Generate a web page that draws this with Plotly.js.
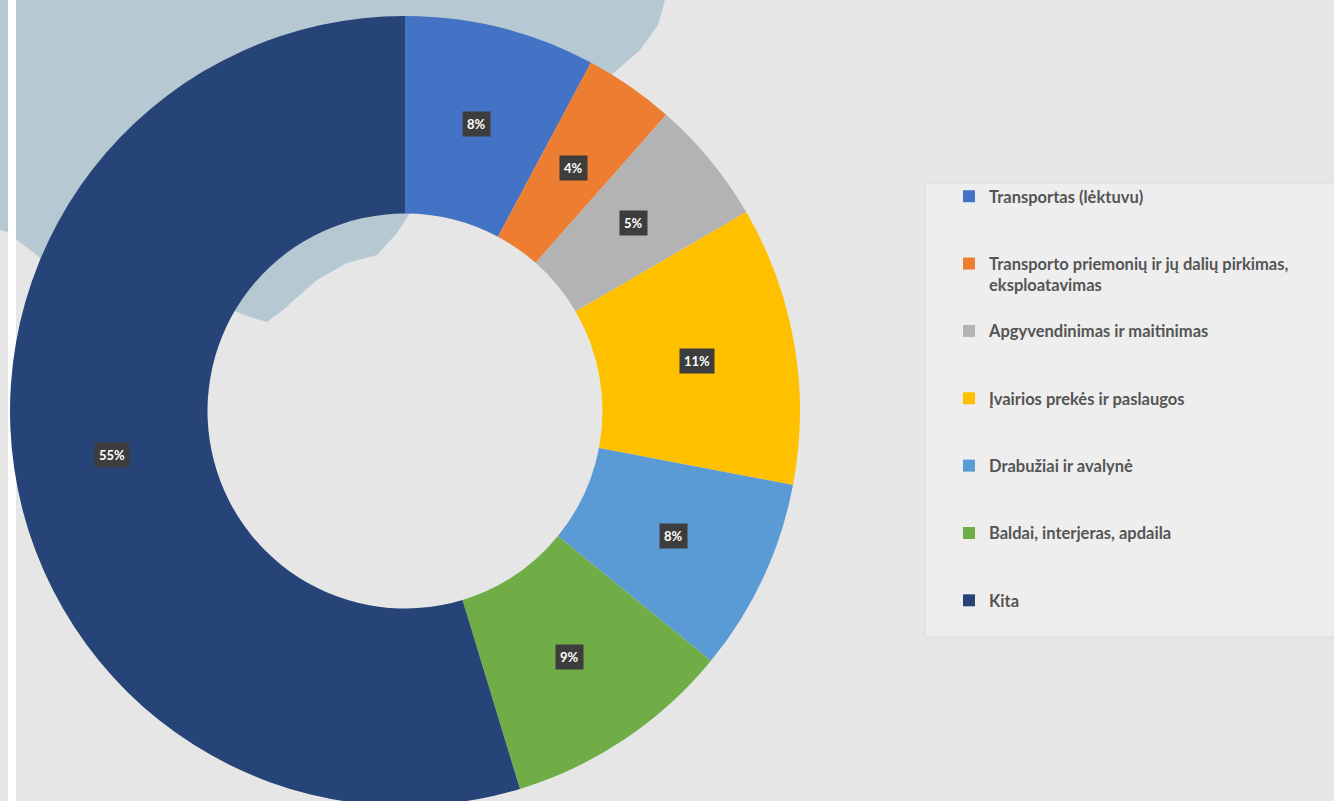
<!DOCTYPE html>
<html>
<head>
<meta charset="utf-8">
<script src="https://cdn.plot.ly/plotly-3.0.1.min.js"></script>
<style>
html,body{margin:0;padding:0;overflow:hidden;background:#e6e6e6;}
#chart{width:1334px;height:811px;}
</style>
</head>
<body>
<div id="chart"></div>
<script>
// Data
const categories = [
  "Transportas (lėktuvu)",
  "Transporto priemonių ir jų dalių pirkimas,<br>eksploatavimas",
  "Apgyvendinimas ir maitinimas",
  "Įvairios prekės ir paslaugos",
  "Drabužiai ir avalynė",
  "Baldai, interjeras, apdaila",
  "Kita"
];
const shares = [7.8, 3.7, 5.1, 11.4, 7.9, 9.4, 54.7];
const sliceColors = ["#4472C4", "#ED7D31", "#B3B3B3", "#FFC000", "#5B9BD5", "#70AD47", "#264478"];

const W = 1334, H = 811;
const cxPx = 405, cyPx = 411, rOut = 395, holeFrac = 0.5;

// pad legend labels to three lines so entries are spaced like the original
const legendLabels = categories.map(c => {
  const n = c.split("<br>").length;
  let s = c;
  for (let i = n; i < 3; i++) s += "<br>\u00a0";
  return s;
});

const trace = {
  type: "pie",
  labels: legendLabels,
  values: shares,
  marker: {colors: sliceColors, line: {width: 0}},
  hole: holeFrac,
  sort: false,
  direction: "clockwise",
  rotation: 0,
  textinfo: "none",
  hoverinfo: "label+percent",
  domain: {
    x: [(cxPx - rOut) / W, (cxPx + rOut) / W],
    y: [(H - (cyPx + rOut)) / H, (H - (cyPx - rOut)) / H]
  }
};

// percentage labels placed at the middle of each ring segment, derived from the values
const total = shares.reduce((a, b) => a + b, 0);
const rMid = rOut * (1 + holeFrac) / 2;
let cum = 0;
const annotations = shares.map(v => {
  const mid = (cum + v / 2) / total * 2 * Math.PI;
  cum += v;
  return {
    xref: "paper", yref: "paper",
    x: (cxPx + rMid * Math.sin(mid)) / W,
    y: (H - (cyPx - rMid * Math.cos(mid))) / H,
    xanchor: "center", yanchor: "middle",
    text: Math.round(v / total * 100) + "%",
    showarrow: false,
    font: {family: "Lato, 'DejaVu Sans', sans-serif", size: 13, color: "#ffffff", weight: 700},
    bgcolor: "#3d3d3d",
    borderpad: 4
  };
});

function px(x, y) { return (x / W).toFixed(4) + "," + ((H - y) / H).toFixed(4); }
const wash = [[0,0],[665,0],[658,25],[640,50],[615,72],[590,90],[500,200],[410,213],[397,233],[377,255],[347,263],[317,280],[283,310],[267,322],[253,318],[237,312],[150,270],[45,262],[33,252],[17,240],[8,232],[0,230]];
const washPath = "M" + wash.map(p => px(p[0], p[1])).join(" L") + " Z";

const shapes = [
  {type: "path", xref: "paper", yref: "paper", path: washPath, fillcolor: "#b6c9d2", line: {width: 0}, layer: "below"},
  {type: "rect", xref: "paper", yref: "paper", x0: 8 / W, x1: 16 / W, y0: 0, y1: 1, fillcolor: "#ffffff", line: {width: 0}, layer: "below"},
  {type: "rect", xref: "paper", yref: "paper", x0: 925 / W, x1: 1, y0: (H - 637) / H, y1: (H - 183) / H, fillcolor: "#eeeeee", line: {color: "#dcdcdc", width: 1}, layer: "below"}
];

const layout = {
  width: W, height: H,
  margin: {l: 0, r: 0, t: 0, b: 0},
  paper_bgcolor: "#e6e6e6",
  plot_bgcolor: "rgba(0,0,0,0)",
  showlegend: true,
  legend: {
    x: 949 / W, xanchor: "left",
    y: (H - 179) / H, yanchor: "top",
    bgcolor: "rgba(0,0,0,0)",
    valign: "top",
    font: {family: "Lato, 'DejaVu Sans', sans-serif", size: 16.5, color: "#555555", weight: 700},
    traceorder: "normal"
  },
  shapes: shapes,
  annotations: annotations
};

Plotly.newPlot("chart", [trace], layout, {displayModeBar: false, staticPlot: true});
</script>
</body>
</html>
